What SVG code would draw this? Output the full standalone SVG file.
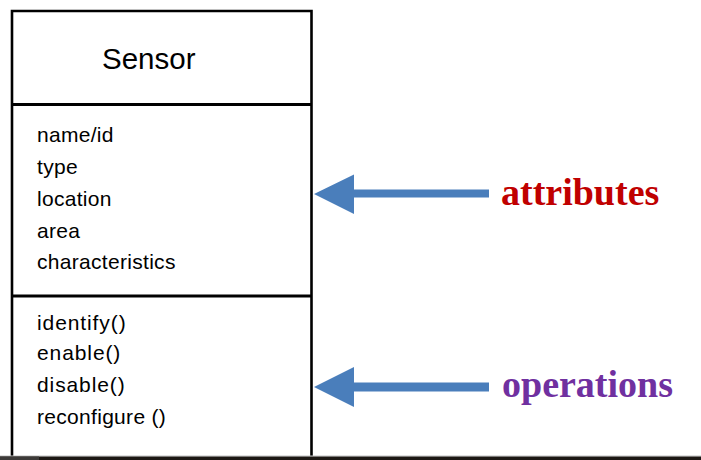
<svg xmlns="http://www.w3.org/2000/svg" width="701" height="460" viewBox="0 0 701 460">
  <style>
    .box { fill: none; stroke: #000; stroke-width: 2.6; }
    .div { stroke: #000; stroke-width: 3; }
    .title { font-family: "Liberation Sans", Arial, sans-serif; font-size: 29.5px; fill: #000; }
    .item { font-family: "Liberation Sans", Arial, sans-serif; font-size: 21px; fill: #000; letter-spacing: 0.3px; }
    .op { letter-spacing: 0.9px; }
    .label { font-family: "Liberation Serif", "Times New Roman", serif; font-weight: bold; font-size: 38px; }
    .arrow { fill: #4a7ebb; }
  </style>
  <rect x="0" y="0" width="701" height="460" fill="#fff"/>
  <g id="sensor-class">
    <path class="box" d="M12,456 V11 H311.5 V456"/>
    <line class="div" x1="12" y1="104.5" x2="311.5" y2="104.5"/>
    <line class="div" x1="12" y1="296" x2="311.5" y2="296"/>
    <text class="title" x="102" y="69">Sensor</text>
    <g id="attributes-list">
      <text class="item" x="37" y="142">name/id</text>
      <text class="item" x="37" y="174">type</text>
      <text class="item" x="37" y="206">location</text>
      <text class="item" x="37" y="238">area</text>
      <text class="item" x="37" y="269">characteristics</text>
    </g>
    <g id="operations-list">
      <text class="item op" x="37" y="330">identify()</text>
      <text class="item op" x="37" y="360">enable()</text>
      <text class="item op" x="37" y="392">disable()</text>
      <text class="item" x="37" y="424">reconfigure ()</text>
    </g>
  </g>
  <g id="connectors">
    <polygon class="arrow" points="314,194 354,174.5 354,189.5 489,189.5 489,197.5 354,197.5 354,214"/>
    <polygon class="arrow" points="314,387 354,367 354,382.5 489,382.5 489,391.5 354,391.5 354,407"/>
  </g>
  <g id="label-attributes">
    <text class="label" x="501" y="205" fill="#c00000">attributes</text>
  </g>
  <g id="label-operations">
    <text class="label" x="502" y="397" fill="#7030a0">operations</text>
  </g>
  <g id="bottom-band">
    <rect x="0" y="455.5" width="701" height="1" fill="#c4c4c4"/>
    <rect x="0" y="456.5" width="701" height="3.5" fill="#1c1814"/>
    <rect x="0" y="456.5" width="39" height="3.5" fill="#3c3a38"/>
  </g>
</svg>
